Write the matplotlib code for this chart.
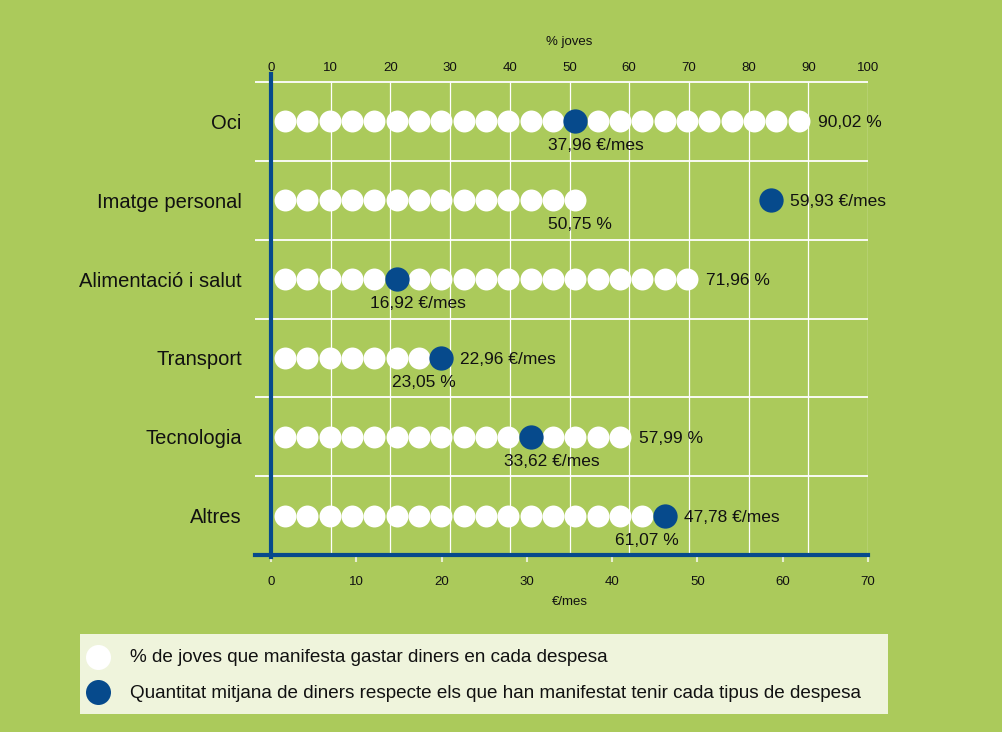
import matplotlib.pyplot as plt
from matplotlib.lines import Line2D
from matplotlib.patches import Rectangle

categories = ['Oci', 'Imatge personal', 'Alimentació i salut', 'Transport', 'Tecnologia', 'Altres']
pct_joves = [90.02, 50.75, 71.96, 23.05, 57.99, 61.07]
eur_mes = [37.96, 59.93, 16.92, 22.96, 33.62, 47.78]
pct_ticks = list(range(0, 101, 10))
eur_ticks = list(range(0, 71, 10))

GREEN = '#abca5b'
BLUE = '#064a8c'
TXT = '#111111'
plt.rcParams['font.family'] = ['Liberation Sans', 'DejaVu Sans']

K = 0.7          # €/mes per % on the shared width
step = 3.74      # dot spacing, in % units
first = 2.35     # first dot centre


def fmt(v, unit):
    return f"{v:.2f}".replace('.', ',') + unit


fig = plt.figure(figsize=(10.03, 7.32), dpi=100, facecolor=GREEN)
ax = fig.add_axes([271 / 1003, 1 - 555 / 732, 597 / 1003, (555 - 82) / 732])
ax.set_facecolor(GREEN)
ax.set_xlim(0, 100)
ax.set_ylim(6, 0)
for sp in ax.spines.values():
    sp.set_visible(False)

# grid
ax.vlines(pct_ticks[1:], 0, 6, color='white', lw=0.9, zorder=1)
ax.hlines(range(6), -2.7, 100, color='white', lw=1.3, zorder=1, clip_on=False)

for i, (p, e) in enumerate(zip(pct_joves, eur_mes)):
    y = i + 0.5
    n = round(p / step)
    b = round((e / K - step - first) / step)
    if 0 <= b - n <= 1:
        n = b
    if b <= n:
        bx = first + step * b          # sits in the row of dots
    else:
        bx = e / K - step / 2          # stands alone, right edge at the value
    whites = [first + step * k for k in range(n) if k != b]
    ax.plot(whites, [y] * len(whites), 'o', color='white', ms=15.8, mew=0, zorder=3)
    ax.plot([bx], [y], 'o', color=BLUE, ms=17.5, mew=0, zorder=4)
    wx = first + step * (n - 1)
    if bx > wx:
        right_x, right_t = bx, fmt(e, ' €/mes')
        low_x, low_t = wx, fmt(p, ' %')
    else:
        right_x, right_t = wx, fmt(p, ' %')
        low_x, low_t = bx, fmt(e, ' €/mes')
    ax.text(right_x + 3.2, y + 0.02, right_t, ha='left', va='center', fontsize=12.5, color=TXT, zorder=5)
    ax.text(low_x - 4.5, y + 0.31, low_t, ha='left', va='center', fontsize=12.5, color=TXT, zorder=5)

# top axis: % joves
ax.xaxis.tick_top()
ax.xaxis.set_label_position('top')
ax.set_xticks(pct_ticks)
ax.tick_params(axis='x', length=0, pad=6, labelsize=9.5, labelcolor=TXT)
ax.set_xlabel('% joves', fontsize=9.5, color=TXT, labelpad=12)

ax.set_yticks([i + 0.5 for i in range(len(categories))])
ax.set_yticklabels(categories)
ax.tick_params(axis='y', length=0, pad=21, labelsize=14.5, labelcolor=TXT)

# bottom axis: €/mes
sec = ax.secondary_xaxis('bottom', functions=(lambda p: p * K, lambda e: e / K))
sec.set_xticks(eur_ticks)
sec.tick_params(length=5, width=1.5, color='#e8efd0', pad=10, labelsize=9.5, labelcolor=TXT)
for sp in sec.spines.values():
    sp.set_visible(False)
sec.set_xlabel('€/mes', fontsize=9.5, color=TXT, labelpad=6)

# blue axis lines
ax.add_line(Line2D([0, 0], [6.03, -0.1], color=BLUE, lw=3, clip_on=False, zorder=6))
ax.add_line(Line2D([-2.7, 100], [6, 6], color=BLUE, lw=3, clip_on=False, zorder=6))

# legend box
fig.add_artist(Rectangle((80 / 1003, 1 - 714 / 732), 808 / 1003, 80 / 732,
                         transform=fig.transFigure, facecolor='#eff4dc', edgecolor='none'))
for yy, col, label in [(657, 'white', '% de joves que manifesta gastar diners en cada despesa'),
                       (692, BLUE, 'Quantitat mitjana de diners respecte els que han manifestat tenir cada tipus de despesa')]:
    fig.add_artist(Line2D([98 / 1003], [1 - yy / 732], marker='o', color=col, ms=18, mew=0,
                          transform=fig.transFigure))
    fig.text(130 / 1003, 1 - (yy + 1) / 732, label, ha='left', va='center', fontsize=13.6, color=TXT)

fig.savefig('out.png', dpi=100, facecolor=GREEN)
